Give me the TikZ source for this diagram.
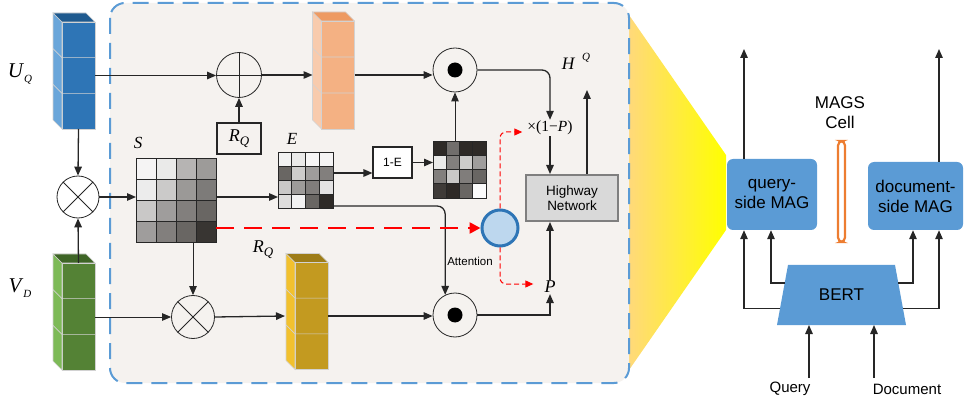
\documentclass[tikz,border=0pt]{standalone}
\usepackage{fontspec}
\setmainfont{Liberation Serif}
\setsansfont{Liberation Sans}
\usetikzlibrary{arrows.meta, positioning, shapes.geometric, calc}
\definecolor{magblue}{HTML}{5B9BD5}
\definecolor{boxbg}{HTML}{F5F2EF}
\definecolor{linec}{HTML}{262626}
\definecolor{uqfront}{HTML}{2E75B6}
\definecolor{uqside}{HTML}{6AA6DA}
\definecolor{uqtop}{HTML}{1F5A8F}
\definecolor{vdfront}{HTML}{548235}
\definecolor{vdside}{HTML}{7DBA57}
\definecolor{vdtop}{HTML}{3E6526}
\definecolor{fufront}{HTML}{F4B183}
\definecolor{fuside}{HTML}{F8CBAD}
\definecolor{futop}{HTML}{EE9A62}
\definecolor{atfront}{HTML}{C39A20}
\definecolor{atside}{HTML}{F2C12E}
\definecolor{attop}{HTML}{9E7D18}
\definecolor{cellgray}{HTML}{2E2A27}
\definecolor{attfill}{HTML}{BDD7EE}
\definecolor{attline}{HTML}{2E75B6}
\definecolor{cellorange}{HTML}{ED7D31}
\definecolor{hwyline}{HTML}{7F7F7F}
\definecolor{funnelA}{HTML}{FFD97A}
\definecolor{funnelB}{HTML}{FFC000}
\definecolor{funnelC}{HTML}{FFFF00}

% italic letter with a lowered italic index
\newcommand\idx[3][11]{\textit{#2}\raisebox{-0.5ex}{\fontsize{#1}{#1}\selectfont\textit{#3}}}
% side and top faces of a stacked cube, around its front node
\newcommand\drawcube[3]{%
  \filldraw[#2, draw=gray!35, line width=0.6pt] (#1.north west) -- ++(-9,-9)
    -- ($(#1.south west)+(-9,-9)$) -- (#1.south west) -- cycle;
  \filldraw[#3, draw=gray!35, line width=0.6pt] (#1.north west) -- ++(-9,-9)
    -- ($(#1.north east)+(-9,-9)$) -- (#1.north east) -- cycle;
  \foreach \k in {1,2}
    \draw[gray!35, line width=0.6pt] ($(#1.north west)!\k/3!(#1.south west)+(-9,-9)$)
      -- ($(#1.north west)!\k/3!(#1.south west)$) -- ($(#1.north east)!\k/3!(#1.south east)$);
}
% grey cells of a matrix node: node, cell width, cell height, rows
\newcommand\gridmat[4]{%
  \foreach \row [count=\ri from 0] in {#4}
    \foreach \g [count=\ci from 0] in \row
      \filldraw[fill=cellgray!\g!white, draw=linec, line width=0.6pt]
        ($(#1.north west)+(\ci*#2,\ri*#3)$) rectangle ++(#2,#3);
}

\begin{document}
\begin{tikzpicture}[x=1pt, y=-1pt,
  arr/.style={draw=linec, line width=1.3pt, -{Triangle[length=9pt, width=7.5pt]}},
  thinarr/.style={arr, line width=0.9pt},
  reddash/.style={draw=red, line width=2.5pt, dash pattern=on 18pt off 10pt,
                  -{Triangle[length=11pt, width=11pt]}},
  redthin/.style={draw=red, line width=1pt, dash pattern=on 5pt off 3pt,
                  rounded corners=6pt, -{Triangle[length=8pt, width=7pt]}},
  cube/.style={rectangle, draw=gray!35, line width=0.6pt, minimum width=33pt,
               minimum height=107pt, inner sep=0pt, outer sep=0pt},
  opcirc/.style={circle, draw=linec, line width=0.8pt, minimum size=44pt, inner sep=0pt},
  gatedot/.style={circle, fill=black, minimum size=15pt, inner sep=0pt},
  matbox/.style={rectangle, inner sep=0pt, outer sep=0pt},
  lbl/.style={font=\fontsize{17}{17}\selectfont\itshape, inner sep=1pt},
  sans/.style={font=\sffamily\fontsize{#1}{#1}\selectfont},
  magbox/.style={rectangle, fill=magblue, rounded corners=6pt, align=center,
                 font=\sffamily\fontsize{17}{20}\selectfont}]
  \useasboundingbox (0,0) rectangle (964,406);

  % zoom funnel and the cell frame
  \shade[left color=funnelA, middle color=funnelB, right color=funnelC]
    (629,15) -- (726,155) -- (726,230) -- (629,370) -- cycle;
  \draw[draw=magblue, line width=2pt, dash pattern=on 16pt off 9pt, rounded corners=15pt,
        fill=boxbg] (110,3) rectangle (629,383);

  % cubes
  \node[cube, fill=uqfront] (uqcube) at (78.5,75.5) {};
  \node[cube, fill=vdfront] (vdcube) at (78.5,316.5) {};
  \node[cube, fill=fufront, minimum height=108pt] (fusecube) at (338,75) {};
  \node[cube, fill=atfront] (attcube) at (311.5,316) {};
  \foreach \nm/\sd/\tp in {uqcube/uqside/uqtop, vdcube/vdside/vdtop,
                           fusecube/fuside/futop, attcube/atside/attop}
    \drawcube{\nm}{\sd}{\tp};

  % operators
  \node[opcirc, minimum size=45pt] (addop) at (239,75) {};
  \draw[linec, line width=0.8pt] (addop.north) -- (addop.south) (addop.west) -- (addop.east);
  \node[opcirc, minimum size=42pt] (mulq) at (78,197) {};
  \node[opcirc, minimum size=43pt] (muld) at (193,317) {};
  \foreach \nm in {mulq, muld}
    \draw[linec, line width=0.8pt] (\nm.45) -- (\nm.225) (\nm.135) -- (\nm.315);
  \node[opcirc] (gateq) at (455,70) {};
  \node[opcirc] (gated) at (455,315) {};
  \node[gatedot] (gateqdot) at (gateq) {};
  \node[gatedot] (gateddot) at (gated) {};
  \node[circle, draw=attline, fill=attfill, line width=3pt, minimum size=36pt,
        inner sep=0pt] (att) at (500,228) {};

  % matrices
  \node[matbox, minimum width=80pt, minimum height=84pt] (smat) at (176,200) {};
  \gridmat{smat}{20}{21}{{5,10,35,47},{9,25,48,62},{26,46,60,72},{46,60,72,95}}
  \node[matbox, minimum width=55pt, minimum height=56pt] (emat) at (305.5,180) {};
  \gridmat{emat}{13.75}{14}{{6,10,4,5},{72,24,46,60},{26,47,61,13},{16,6,72,100}}
  \node[matbox, minimum width=53pt, minimum height=57pt] (omat) at (459.5,169.5) {};
  \gridmat{omat}{13.25}{14.25}{{100,68,100,100},{10,60,24,46},{60,26,61,72},{92,100,72,2}}

  % boxes
  \node[draw=linec, line width=1.3pt, minimum width=44pt, minimum height=31pt,
        inner sep=0pt, font=\fontsize{18}{18}\selectfont] (rqbox) at (239,138.5) {\idx[13]{R}{Q}};
  \node[draw=linec, line width=1.1pt, fill=white, minimum width=39pt, minimum height=31pt,
        inner sep=0pt, sans=12] (onebox) at (392.5,162.5) {1-E};
  \node[draw=hwyline, fill=gray!30, line width=2pt, minimum width=92pt, minimum height=46pt,
        align=center, inner sep=0pt, font=\sffamily\fontsize{13.5}{15}\selectfont]
        (hwy) at (572,198) {Highway\\Network};

  % labels
  \node[lbl, font=\fontsize{21}{21}\selectfont] (uqlbl) at (20,74) {\idx{U}{Q}};
  \node[lbl, font=\fontsize{21}{21}\selectfont] (vdlbl) at (20,288) {\idx{V}{D}};
  \node[lbl] (slbl) at (138,143) {S};
  \node[lbl] (elbl) at (292,139) {E};
  \node[lbl, font=\fontsize{18}{18}\selectfont] (rqlbl) at (263,250) {\idx[13]{R}{Q}};
  \node[lbl, font=\fontsize{17.5}{18}\selectfont] (hqlbl) at (576,61)
    {\textit{H}\hspace{7pt}\raisebox{1.1ex}{\fontsize{11}{11}\selectfont\textit{Q}}};
  \node[font=\fontsize{15.5}{16}\selectfont, inner sep=1pt] (xlbl) at (550,128) {×(1−\textit{P})};
  \node[lbl, font=\fontsize{18}{18}\selectfont\itshape] (plbl) at (550,287) {P};
  \node[sans=11.5] (attlbl) at (470,261) {Attention};
  \coordinate (hout) at (587,90);

  % top row
  \draw[arr] (uqcube.east) -- (uqcube.east -| addop.west);
  \draw[arr] (addop.east) -- ([xshift=-9pt]fusecube.west);
  \draw[arr] (rqbox) -- (addop);
  \draw[arr] (fusecube.east) -- (fusecube.east -| gateq.west);
  \draw[thinarr] (gateq.south |- omat.north) -- (gateq.south);
  \draw[arr, rounded corners=8pt] (gateq.east) -| (xlbl.north);
  \draw[arr] (xlbl.south) -- (xlbl.south |- hwy.north);
  \draw[arr] (hwy.north -| hout) -- (hout);
  \draw[arr] (plbl.north) -- (plbl.north |- hwy.south);
  \draw[arr] (gated.east) -| (plbl.south);

  % bottom row
  \draw[thinarr] (vdcube.east |- muld) -- (muld.west);
  \draw[arr] (muld.east) -- ([xshift=-10pt]attcube.west);
  \draw[arr] (attcube.east) -- (attcube.east -| gated.west);
  \draw[thinarr] (smat.south -| muld) -- (muld.north);

  % similarity path
  \draw[arr] (uqcube.south) -- (mulq.north);
  \draw[arr] (vdcube.north) -- (mulq.south);
  \draw[arr] (mulq.east) -- (mulq.east -| smat.west);
  \draw[arr] (smat.east |- mulq) -- (emat.west |- mulq);
  \draw[arr] ([yshift=7pt]emat.east) -- ([yshift=7pt]emat.east -| onebox.west);
  \draw[arr] (onebox.east) -- (onebox.east -| omat.west);
  \draw[arr, rounded corners=8pt] ([yshift=2pt]emat.south east) -| (gated.116);

  % attention gate
  \draw[reddash] (smat.east |- att) -- (att.west);
  \draw[redthin] (att.north) |- ([xshift=-4pt, yshift=-4pt]xlbl.west);
  \draw[redthin] (att.south) |- ([xshift=-10pt, yshift=3pt]plbl.west);

  % MAGS cell
  \node[magbox, minimum width=90pt, minimum height=71pt] (qmag) at (772,194.5) {query-\\side MAG};
  \node[magbox, minimum width=95pt, minimum height=68pt] (dmag) at (915.5,196) {document-\\side MAG};
  \node[matbox, minimum width=107pt, minimum height=60pt,
        font=\sffamily\fontsize{17}{17}\selectfont] (bert) at (841.5,295) {};
  \fill[magblue] (bert.north west) -- (bert.north east) -- ([xshift=11pt]bert.south east)
    -- ([xshift=-11pt]bert.south west) -- cycle;
  \node[font=\sffamily\fontsize{17}{17}\selectfont] (berttxt) at (bert) {BERT};
  \node[align=center, font=\sffamily\fontsize{17}{20}\selectfont] (celllbl) at (840,113) {MAGS\\Cell};
  \node[draw=cellorange, fill=white, line width=2.2pt, rounded corners=4.5pt,
        minimum width=7pt, minimum height=101pt, inner sep=0pt] (cellbar) at (841.5,191.5) {};
  \node[sans=15] (qlbl) at (790,389) {Query};
  \node[sans=15] (dlbl) at (907,389) {Document};
  \coordinate (qout) at (744,49);
  \coordinate (dout) at (939,49);
  \coordinate (qin) at (809,378);
  \coordinate (din) at (874,378);

  \draw[arr] (qout |- qmag.north) -- (qout);
  \draw[arr] (dout |- dmag.north) -- (dout);
  \draw[arr] ($(bert.north west)!0.72!([xshift=-11pt]bert.south west)$) -| (qout |- qmag.south);
  \draw[arr] ($(bert.north west)!0.3!([xshift=-11pt]bert.south west)$) -| ([xshift=-1pt]qmag.south);
  \draw[arr] ($(bert.north east)!0.3!([xshift=11pt]bert.south east)$) -| ([xshift=-2.5pt]dmag.south);
  \draw[arr] ($(bert.north east)!0.72!([xshift=11pt]bert.south east)$) -| (dout |- dmag.south);
  \draw[arr] (qin) -- (qin |- bert.south);
  \draw[arr] (din) -- (din |- bert.south);
\end{tikzpicture}
\end{document}
